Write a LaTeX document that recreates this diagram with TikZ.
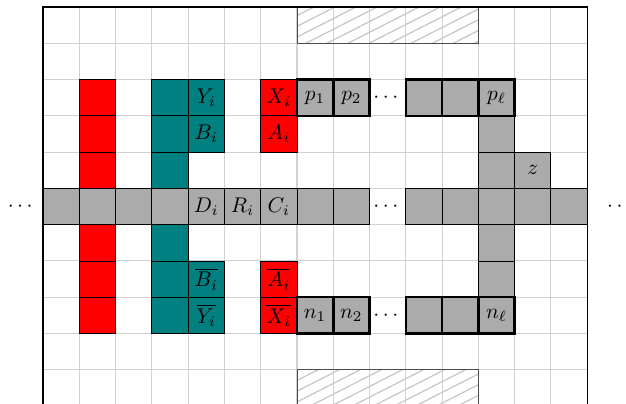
\documentclass[tikz,border=0pt]{standalone}
\usepackage{amsmath, amssymb}
\usepackage{tikz}
\usetikzlibrary{patterns.meta}

\tikzset{
  cell/.style={draw, minimum size=0.6cm, inner sep=0pt, outer sep=0pt},
  graycell/.style={cell, fill=black!33},
  redcell/.style={cell, fill=red},
  tealcell/.style={cell, fill=teal},
  wirecell/.style={graycell, very thick},
  gridline/.style={black!18, line width=0.5pt},
  hatched/.style={pattern={Lines[angle=27,distance=4.5pt,line width=0.6pt]}, pattern color=black!22},
}

\begin{document}
\begin{tikzpicture}[x=0.6cm, y=0.6cm]
  \clip (-1.186,0.083) rectangle (16.07,11.193);

  % background grid and blocked regions
  \fill[hatched] (7,10) rectangle (12,11);
  \fill[hatched] (7,-1) rectangle (12,1);
  \draw[gridline, step=0.6cm] (0,-1) grid (15,11);
  \draw[black!70] (7,11) rectangle (12,10);
  \draw[black!70] (7,-1) rectangle (12,1);
  \draw[line width=0.6pt] (0,-1) -- (0,11) -- (15,11) -- (15,-1);

  % red and teal columns
  \foreach \r in {2,3,4,6,7,8} {
    \node[redcell] (red\r) at (1.5,10.5-\r) {};
    \node[tealcell] (teal\r) at (3.5,10.5-\r) {};
  }
  \node[tealcell] (Yi) at (4.5,8.5) {$Y_i$};
  \node[tealcell] (Bi) at (4.5,7.5) {$B_i$};
  \node[tealcell] (Bbar) at (4.5,3.5) {$\overline{B_i}$};
  \node[tealcell] (Ybar) at (4.5,2.5) {$\overline{Y_i}$};
  \node[redcell] (Xi) at (6.5,8.5) {$X_i$};
  \node[redcell] (Ai) at (6.5,7.5) {$A_i$};
  \node[redcell] (Abar) at (6.5,3.5) {$\overline{A_i}$};
  \node[redcell] (Xbar) at (6.5,2.5) {$\overline{X_i}$};

  % main wire
  \foreach \c in {0,1,2,3,7,8,10,11,12,13,14}
    \node[graycell] (w\c) at (\c+0.5,5.5) {};
  \node[graycell] (Di) at (4.5,5.5) {$D_i$};
  \node[graycell] (Ri) at (5.5,5.5) {$R_i$};
  \node[graycell] (Ci) at (6.5,5.5) {$C_i$};
  \node (wdots) at (9.5,5.5) {$\cdots$};
  \node (ldots) at (-0.58,5.5) {$\cdots$};
  \node (rdots) at (15.94,5.5) {$\cdots$};

  % branch to the literal paths
  \foreach \r in {3,4,6,7}
    \node[graycell] (b\r) at (12.5,10.5-\r) {};
  \node[graycell] (z) at (13.5,6.5) {$z$};

  % positive and negative paths
  \foreach \c in {10,11} {
    \node[wirecell] (p\c) at (\c+0.5,8.5) {};
    \node[wirecell] (n\c) at (\c+0.5,2.5) {};
  }
  \node[wirecell] (p1) at (7.5,8.5) {$p_1$};
  \node[wirecell] (p2) at (8.5,8.5) {$p_2$};
  \node[wirecell] (pl) at (12.5,8.5) {$p_\ell$};
  \node (pdots) at (9.5,8.5) {$\cdots$};
  \node[wirecell] (n1) at (7.5,2.5) {$n_1$};
  \node[wirecell] (n2) at (8.5,2.5) {$n_2$};
  \node[wirecell] (nl) at (12.5,2.5) {$n_\ell$};
  \node (ndots) at (9.5,2.5) {$\cdots$};
\end{tikzpicture}
\end{document}
